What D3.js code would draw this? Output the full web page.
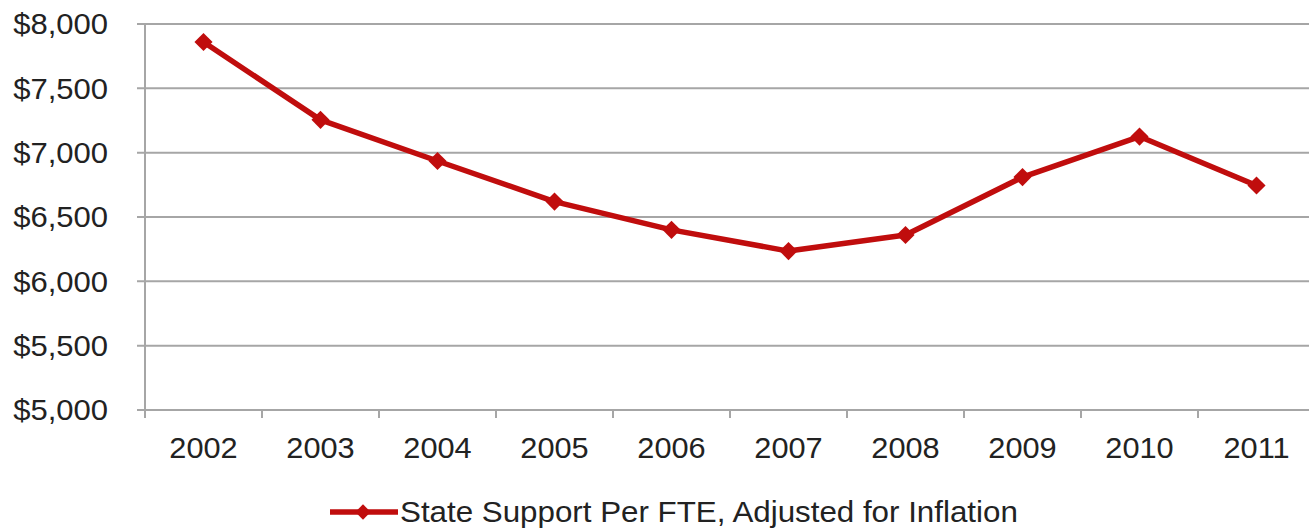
<!DOCTYPE html>
<html>
<head>
<meta charset="utf-8">
<script src="https://cdn.jsdelivr.net/npm/d3@7"></script>
<style>
  body { margin: 0; background: #fff; }
  text { font-family: "Liberation Sans", Arial, sans-serif; fill: #222; }
</style>
</head>
<body>
<svg width="1309" height="528"></svg>
<script>
var years = ["2002", "2003", "2004", "2005", "2006", "2007", "2008", "2009", "2010", "2011"];
var support = [7860, 7255, 6935, 6620, 6400, 6235, 6360, 6810, 7125, 6745];
var yTicks = [5000, 5500, 6000, 6500, 7000, 7500, 8000];
var seriesName = "State Support Per FTE, Adjusted for Inflation";

var svg = d3.select("svg");
var red = "#c00d0d";

var x = d3.scaleBand()
    .domain(years)
    .range([145, 1315]);

var y = d3.scaleLinear()
    .domain([5000, 8000])
    .range([410, 24]);

// gridlines
svg.selectAll("line.grid")
    .data(yTicks)
    .enter()
    .append("line")
    .attr("x1", 137)
    .attr("x2", 1309)
    .attr("y1", function (d) { return y(d); })
    .attr("y2", function (d) { return y(d); })
    .attr("stroke", "#a6a6a6")
    .attr("stroke-width", 2);

// y axis line
svg.append("line")
    .attr("x1", 145).attr("x2", 145)
    .attr("y1", y(8000)).attr("y2", y(5000) + 8)
    .attr("stroke", "#a6a6a6")
    .attr("stroke-width", 2);

// x ticks between categories
svg.selectAll("line.xtick")
    .data(years.slice(1))
    .enter()
    .append("line")
    .attr("x1", function (d) { return x(d); })
    .attr("x2", function (d) { return x(d); })
    .attr("y1", y(5000))
    .attr("y2", y(5000) + 8)
    .attr("stroke", "#a6a6a6")
    .attr("stroke-width", 2);

// y labels (text in the original is a bit stretched sideways)
svg.selectAll("text.ylab")
    .data(yTicks)
    .enter()
    .append("text")
    .attr("transform", function (d) { return "translate(108," + y(d) + ") scale(1.07,1)"; })
    .attr("dy", "0.36em")
    .attr("text-anchor", "end")
    .attr("font-size", 29)
    .text(function (d) { return "$" + d3.format(",")(d); });

// x labels
svg.selectAll("text.xlab")
    .data(years)
    .enter()
    .append("text")
    .attr("transform", function (d) {
        return "translate(" + (x(d) + x.bandwidth() / 2) + ",458) scale(1.06,1)";
    })
    .attr("text-anchor", "middle")
    .attr("font-size", 29)
    .text(function (d) { return d; });

var pts = years.map(function (d, i) { return { year: d, value: support[i] }; });

var line = d3.line()
    .x(function (d) { return x(d.year) + x.bandwidth() / 2; })
    .y(function (d) { return y(d.value); });

svg.append("path")
    .datum(pts)
    .attr("d", line)
    .attr("fill", "none")
    .attr("stroke", red)
    .attr("stroke-width", 5.5)
    .attr("stroke-linejoin", "round");

var diamond = d3.symbol().type(d3.symbolDiamond2).size(210);

svg.selectAll("path.marker")
    .data(pts)
    .enter()
    .append("path")
    .attr("d", diamond)
    .attr("transform", function (d) {
        return "translate(" + (x(d.year) + x.bandwidth() / 2) + "," + y(d.value) + ")";
    })
    .attr("fill", red);

// legend
var lg = svg.append("g");
lg.append("line")
    .attr("x1", 330).attr("x2", 398)
    .attr("y1", 512).attr("y2", 512)
    .attr("stroke", red)
    .attr("stroke-width", 5.5);
lg.append("path")
    .attr("d", d3.symbol().type(d3.symbolDiamond2).size(150))
    .attr("transform", "translate(363,512)")
    .attr("fill", red);
lg.append("text")
    .attr("transform", "translate(400,512) scale(1.08,1)")
    .attr("dy", "0.36em")
    .attr("font-size", 29)
    .text(seriesName);
</script>
</body>
</html>
